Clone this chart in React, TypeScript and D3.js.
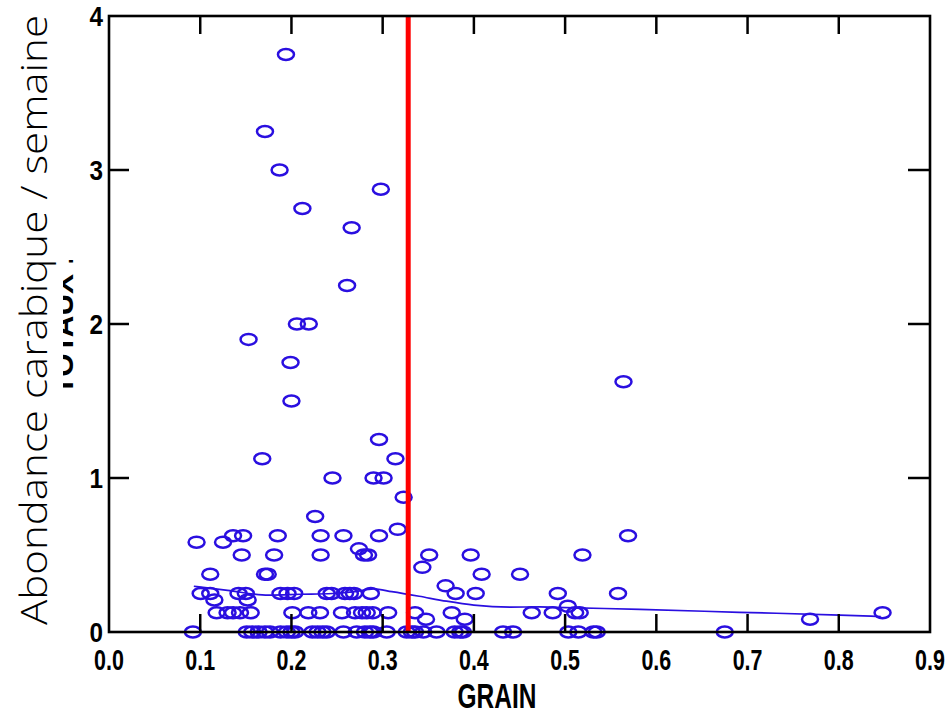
import React from "react";
import * as d3 from "d3";

const xTicks = [0, 0.1, 0.2, 0.3, 0.4, 0.5, 0.6, 0.7, 0.8, 0.9];
const xTickLabels = ["0.0", "0.1", "0.2", "0.3", "0.4", "0.5", "0.6", "0.7", "0.8", "0.9"];
const yTicks = [0, 1, 2, 3, 4];
const yTickLabels = ["0", "1", "2", "3", "4"];

const xTitle = "GRAIN";
const yTitle = "Abondance carabique / semaine";
const hiddenTitle = "TOTAUX :";

const threshold = 0.328;

// [grain, abundance]
const high: [number, number][] = [
  [0.194, 3.75], [0.171, 3.25], [0.187, 3.0], [0.298, 2.875], [0.212, 2.75],
  [0.266, 2.625], [0.261, 2.25], [0.206, 2.0], [0.219, 2.0], [0.153, 1.9],
  [0.199, 1.75], [0.2, 1.5], [0.564, 1.625], [0.296, 1.25], [0.168, 1.125],
  [0.314, 1.125], [0.245, 1.0], [0.29, 1.0], [0.301, 1.0], [0.323, 0.875],
  [0.226, 0.75], [0.3165, 0.667], [0.274, 0.54], [0.3435, 0.42], [0.369, 0.3],
  [0.503, 0.167], [0.096, 0.583], [0.125, 0.583],
];
const level0625 = [0.136, 0.147, 0.185, 0.232, 0.257, 0.296, 0.569];
const level05 = [0.1455, 0.181, 0.232, 0.2795, 0.284, 0.351, 0.3965, 0.519];
const level0375 = [0.111, 0.171, 0.174, 0.4085, 0.4506];
const level025 = [0.1005, 0.111, 0.142, 0.15, 0.188, 0.1957, 0.203, 0.2387, 0.244, 0.2587, 0.264, 0.2686, 0.287, 0.38, 0.402, 0.492, 0.558];
const level02 = [0.1155, 0.152];
const level0125 = [0.118, 0.13, 0.136, 0.1436, 0.1553, 0.201, 0.2185, 0.2313, 0.2554, 0.2697, 0.2774, 0.2825, 0.289, 0.306, 0.3355, 0.3757, 0.4634, 0.4864, 0.511, 0.516, 0.848];
const level0083 = [0.3475, 0.39, 0.7685];
const level0 = [0.092, 0.151, 0.157, 0.164, 0.171, 0.1765, 0.188, 0.195, 0.2, 0.204, 0.223, 0.2286, 0.234, 0.2387, 0.257, 0.2715, 0.2806, 0.286, 0.2897, 0.3044, 0.3264, 0.332, 0.3355, 0.3446, 0.359, 0.379, 0.385, 0.388, 0.432, 0.443, 0.5035, 0.5145, 0.531, 0.5347, 0.675];

// smoother
const smoothX = [0.093, 0.13, 0.175, 0.21, 0.245, 0.27, 0.29, 0.31, 0.34, 0.37, 0.4, 0.44, 0.472, 0.49, 0.582, 0.691, 0.801, 0.846];
const smoothY = [0.297, 0.27, 0.24, 0.245, 0.25, 0.262, 0.28, 0.262, 0.232, 0.2, 0.175, 0.162, 0.163, 0.16, 0.147, 0.128, 0.11, 0.1];

const BLUE = "#2a0fe0";

export default function App() {
  const x = d3.scaleLinear().domain([0, 0.9]).range([109, 930]);
  const y = d3.scaleLinear().domain([0, 4]).range([632, 16]);

  const pts: [number, number][] = [
    ...high,
    ...level0625.map((g) => [g, 0.625] as [number, number]),
    ...level05.map((g) => [g, 0.5] as [number, number]),
    ...level0375.map((g) => [g, 0.375] as [number, number]),
    ...level025.map((g) => [g, 0.25] as [number, number]),
    ...level02.map((g) => [g, 0.208] as [number, number]),
    ...level0125.map((g) => [g, 0.125] as [number, number]),
    ...level0083.map((g) => [g, 0.083] as [number, number]),
    ...level0.map((g) => [g, 0] as [number, number]),
  ];

  const line = d3
    .line<number>()
    .x((_, i) => x(smoothX[i]))
    .y((d) => y(d))
    .curve(d3.curveMonotoneX);

  const tickFont = "'Liberation Sans', Arial, sans-serif";
  const [x0, x1] = x.range();
  const [yb, yt] = y.range();

  return (
    <svg
      width={950}
      height={714}
      style={{ position: "absolute", left: 0, top: 0, background: "#fff" }}
    >
      <defs>
        <clipPath id="hidclip">
          <rect x={63} y={260} width={12} height={130} />
        </clipPath>
      </defs>
      <rect x={0} y={0} width={950} height={714} fill="#fff" />

      {/* hidden bold title fragment */}
      <g clipPath="url(#hidclip)">
        <text
          transform={`translate(73,325) rotate(-90)`}
          textAnchor="middle"
          fontFamily="'Liberation Sans', Arial, sans-serif"
          fontWeight="bold"
          fontSize={30}
          fill="#000"
        >
          {hiddenTitle}
        </text>
      </g>

      {/* y title */}
      <text
        transform={`translate(47,320) rotate(-90)`}
        textAnchor="middle"
        fontFamily="'Open Sans', 'DejaVu Sans', sans-serif"
        fontWeight={300}
        fontSize={37}
        textLength={610}
        lengthAdjust="spacingAndGlyphs"
        fill="#000"
      >
        {yTitle}
      </text>

      {/* smoother */}
      <path d={line(smoothY) || ""} fill="none" stroke={BLUE} strokeWidth={1.7} />

      {/* points */}
      {pts.map(([g, a], i) => (
        <ellipse key={i} cx={x(g)} cy={y(a)} rx={8} ry={5.5} fill="none" stroke={BLUE} strokeWidth={2.5} />
      ))}

      {/* threshold */}
      <line x1={x(threshold)} x2={x(threshold)} y1={yt} y2={yb} stroke="#ff0000" strokeWidth={5} />

      {/* ticks */}
      {xTicks.slice(1, -1).map((t) => (
        <g key={"xt" + t}>
          <line x1={x(t)} x2={x(t)} y1={yb} y2={yb - 18} stroke="#000" strokeWidth={2.5} />
          <line x1={x(t)} x2={x(t)} y1={yt} y2={yt + 18} stroke="#000" strokeWidth={2.5} />
        </g>
      ))}
      {yTicks.slice(1, -1).map((t) => (
        <g key={"yt" + t}>
          <line x1={x0} x2={x0 + 20} y1={y(t)} y2={y(t)} stroke="#000" strokeWidth={2.5} />
          <line x1={x1} x2={x1 - 22} y1={y(t)} y2={y(t)} stroke="#000" strokeWidth={2.5} />
        </g>
      ))}

      {/* frame */}
      <rect x={x0} y={yt} width={x1 - x0} height={yb - yt} fill="none" stroke="#000" strokeWidth={2.6} />

      {/* tick labels */}
      {xTicks.map((t, i) => (
        <text
          key={"xl" + t}
          transform={`translate(${x(t)},670) scale(0.74,1)`}
          textAnchor="middle"
          fontFamily={tickFont}
          fontWeight="bold"
          fontSize={29}
          fill="#000"
        >
          {xTickLabels[i]}
        </text>
      ))}
      {yTicks.map((t, i) => (
        <text
          key={"yl" + t}
          transform={`translate(103,${y(t) + 10}) scale(0.9,1)`}
          textAnchor="end"
          fontFamily={tickFont}
          fontWeight="bold"
          fontSize={27}
          fill="#000"
        >
          {yTickLabels[i]}
        </text>
      ))}

      {/* x title */}
      <text
        transform={`translate(497,708) scale(0.7,1)`}
        textAnchor="middle"
        fontFamily={tickFont}
        fontWeight="bold"
        fontSize={35}
        fill="#000"
      >
        {xTitle}
      </text>
    </svg>
  );
}
